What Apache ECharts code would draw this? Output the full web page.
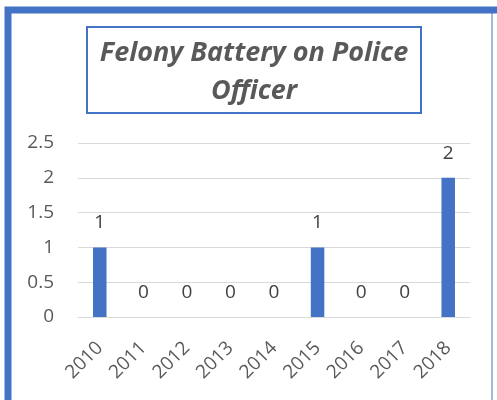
<!DOCTYPE html>
<html>
<head>
<meta charset="utf-8">
<script src="https://cdn.jsdelivr.net/npm/echarts@6/dist/echarts.min.js"></script>
<style>html,body{margin:0;padding:0;background:#fff;}#c{width:497px;height:400px;}</style>
</head>
<body>
<div id="c"></div>
<script>
var titleText = "Felony Battery on Police\nOfficer";
var categories = ["2010","2011","2012","2013","2014","2015","2016","2017","2018"];
var values = [1,0,0,0,0,1,0,0,2];
var yTicks = [0,0.5,1,1.5,2,2.5];

var chart = echarts.init(document.getElementById('c'), null, {renderer:'canvas'});
var blue = '#4472C4';
var txt = '#595959';
var font = '"Open Sans", "Noto Sans", sans-serif';
chart.setOption({
  animation:false,
  backgroundColor:'#fff',
  grid:{left:78,right:27,top:143,bottom:83},
  xAxis:{
    type:'category', data:categories,
    axisLine:{show:true,lineStyle:{color:'#d9d9d9',width:1}},
    axisTick:{show:false},
    axisLabel:{rotate:45,color:txt,fontSize:19,fontFamily:font,margin:28,interval:0}
  },
  yAxis:{
    type:'value', min:yTicks[0], max:yTicks[yTicks.length-1], interval:0.5,
    axisLine:{show:false}, axisTick:{show:false},
    splitLine:{lineStyle:{color:'#d9d9d9',width:1}},
    axisLabel:{color:txt,fontSize:19,fontFamily:font,margin:24}
  },
  series:[{
    type:'bar', data:values, barWidth:'31%',
    itemStyle:{color:blue},
    label:{show:true,position:'top',distance:15,color:'#404040',fontSize:19,fontFamily:font}
  }],
  graphic:[
    {type:'rect',shape:{x:8,y:10,width:700,height:700},style:{fill:'none',stroke:blue,lineWidth:7},silent:true},
    {type:'line',shape:{x1:492,y1:13,x2:492,y2:400},style:{stroke:blue,lineWidth:1},silent:true},
    {type:'rect',shape:{x:87,y:27,width:334,height:86},style:{fill:'#fff',stroke:blue,lineWidth:2},silent:true},
    {type:'text',x:254,y:72,style:{text:titleText,textAlign:'center',textVerticalAlign:'middle',fill:txt,font:'italic bold 27px '+font,lineHeight:38},silent:true}
  ]
});
</script>
</body>
</html>
